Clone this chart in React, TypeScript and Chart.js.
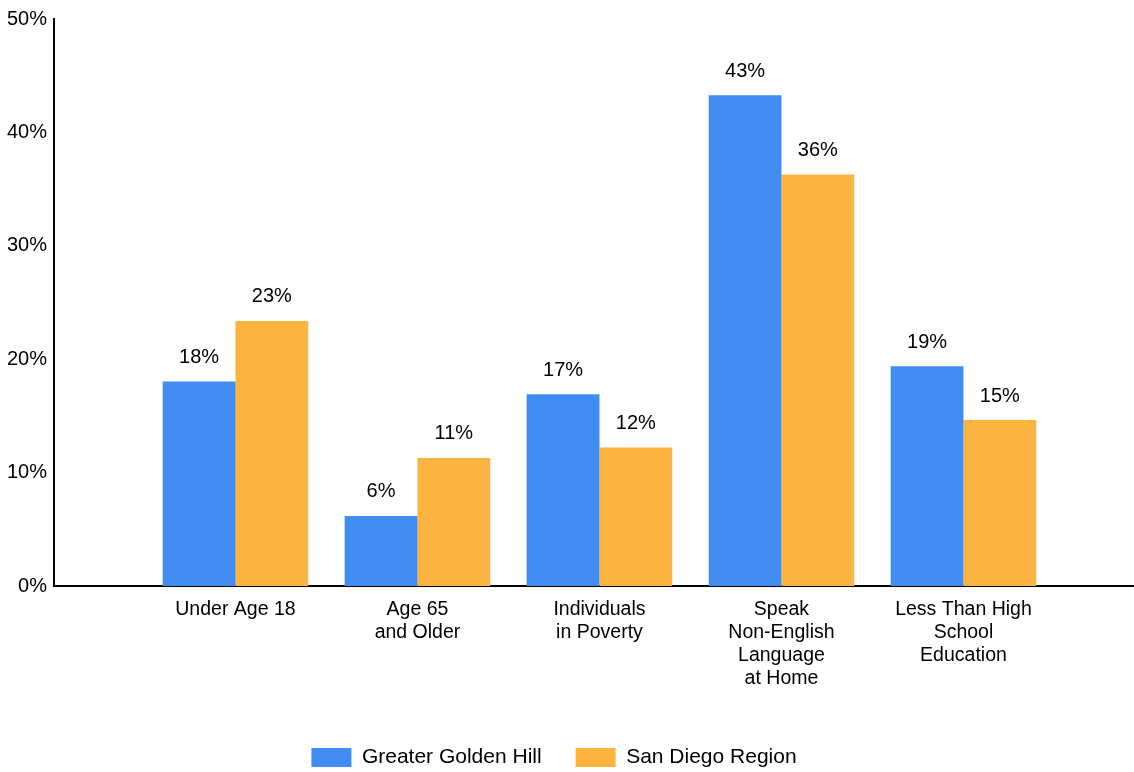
import React, { useEffect, useRef } from "react";
import { Chart, registerables } from "chart.js";

Chart.register(...registerables);

const categories: (string | string[])[] = [
  "Under Age 18",
  ["Age 65", "and Older"],
  ["Individuals", "in Poverty"],
  ["Speak", "Non-English", "Language", "at Home"],
  ["Less Than High", "School", "Education"],
];
const seriesNames = ["Greater Golden Hill", "San Diego Region"];
const goldenHill = [18.03, 6.18, 16.92, 43.27, 19.38];
const sanDiego = [23.37, 11.29, 12.22, 36.28, 14.63];
const yTicks = [0, 10, 20, 30, 40, 50];
const colors = ["#418CF0", "#FCB441"];

const FONT = "'Liberation Sans', Arial, Helvetica, sans-serif";

const valueLabels = {
  id: "valueLabels",
  afterDatasetsDraw(chart: any) {
    const ctx = chart.ctx;
    ctx.save();
    ctx.font = `20px ${FONT}`;
    ctx.fillStyle = "#000";
    ctx.textAlign = "center";
    ctx.textBaseline = "middle";
    chart.data.datasets.forEach((ds: any, di: number) => {
      const meta = chart.getDatasetMeta(di);
      meta.data.forEach((bar: any, i: number) => {
        const v = ds.data[i].y;
        ctx.fillText(Math.round(v) + "%", bar.x, bar.y - 24);
      });
    });
    ctx.restore();
  },
};

const legendShift = {
  id: "legendShift",
  afterLayout(chart: any) {
    const l = chart.legend;
    if (l) {
      l.left -= 13;
      l.right -= 13;
    }
  },
};

export default function App() {
  const ref = useRef<HTMLCanvasElement | null>(null);
  useEffect(() => {
    if (!ref.current) return;
    const toPoints = (arr: number[]) => arr.map((y, i) => ({ x: i, y }));
    const chart = new Chart(ref.current, {
      type: "bar",
      data: {
        datasets: [
          {
            label: seriesNames[0],
            data: toPoints(goldenHill),
            backgroundColor: colors[0],
            borderWidth: 0,
          },
          {
            label: seriesNames[1],
            data: toPoints(sanDiego),
            backgroundColor: colors[1],
            borderWidth: 0,
          },
        ],
      },
      options: {
        responsive: false,
        animation: false,
        events: [],
        categoryPercentage: 0.8,
        barPercentage: 1.0,
        layout: { padding: { top: 17.5, left: 0, right: 0, bottom: -6 } },
        scales: {
          x: {
            type: "linear",
            offset: false,
            min: -0.997,
            max: 4.937,
            grid: { display: false, drawTicks: false, offset: false },
            border: { display: true, color: "#000", width: 2 },
            afterBuildTicks: (scale: any) => {
              scale.ticks = categories.map((_, i) => ({ value: i }));
            },
            afterFit: (scale: any) => {
              scale.height = 127;
            },
            ticks: {
              color: "#000",
              padding: 12,
              maxRotation: 0,
              autoSkip: false,
              font: { family: FONT, size: 19.5, lineHeight: 1.18 },
              callback: (v: any) => categories[v as number] ?? "",
            },
          },
          y: {
            min: yTicks[0],
            max: yTicks[yTicks.length - 1],
            grid: { display: false, drawTicks: false },
            border: { display: true, color: "#000", width: 2 },
            afterFit: (scale: any) => {
              scale.width = 54;
            },
            afterBuildTicks: (scale: any) => {
              scale.ticks = yTicks.map((v) => ({ value: v }));
            },
            ticks: {
              color: "#000",
              padding: 7,
              font: { family: FONT, size: 20 },
              callback: (v: any) => v + "%",
            },
          },
        },
        plugins: {
          tooltip: { enabled: false },
          legend: {
            display: true,
            position: "bottom",
            labels: {
              color: "#000",
              boxWidth: 40,
              boxHeight: 19,
              padding: 34,
              font: { family: FONT, size: 21 },
            },
          },
        },
      },
      plugins: [valueLabels, legendShift],
    } as any);
    return () => chart.destroy();
  }, []);
  return (
    <div
      style={{
        position: "fixed",
        left: 0,
        top: 0,
        width: 1134,
        height: 772,
        background: "#fff",
        overflow: "hidden",
      }}
    >
      <canvas ref={ref} width={1134} height={772} />
    </div>
  );
}
